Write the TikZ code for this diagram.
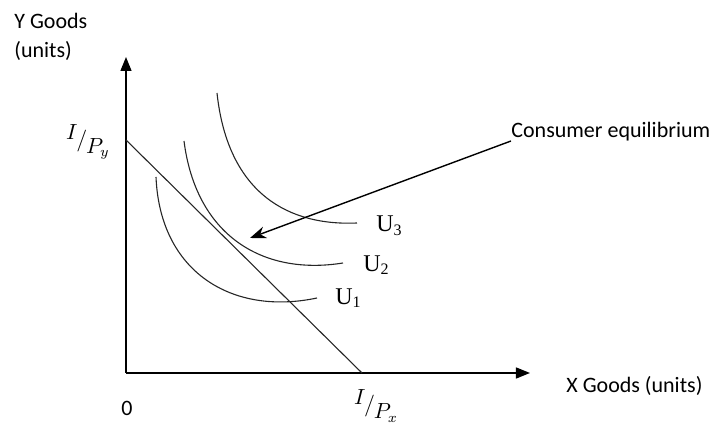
\documentclass[tikz,border=0pt]{standalone}
\usepackage{fontspec}
\setmainfont{Liberation Serif}
\newfontfamily\axisfont{Carlito}
\usetikzlibrary{arrows.meta, positioning}
\newcommand{\slantratio}[2]{$\raisebox{3.5pt}{$#1$}\mkern-1mu\big/\mkern-1mu\raisebox{-3.5pt}{$#2$}$}

\begin{document}
\begin{tikzpicture}[
    x=0.5pt, y=-0.5pt,
    axis/.style={-{Triangle[length=7pt,width=5.5pt]}, line width=0.7pt},
    curve/.style={draw=black!85, line width=0.55pt},
    axislabel/.style={font=\axisfont\fontsize{11}{14.5}\selectfont, align=left, inner sep=0pt},
    ulabel/.style={font=\fontsize{12}{13}\selectfont, inner sep=0pt},
    ratio/.style={font=\fontsize{10.5}{13}\selectfont, inner sep=0pt},
    pointer/.style={-{Stealth[length=8pt,width=6pt]}, line width=0.7pt}
  ]
    \useasboundingbox (0,0) rectangle (720,432);

    % axes
    \coordinate (O) at (126,373);
    \coordinate (ytip) at (126,57);
    \coordinate (xtip) at (530,373);
    \draw[axis] (O) -- (ytip);
    \draw[axis] (O) -- (xtip);

    % budget line
    \coordinate (Iy) at (126,140);
    \coordinate (Ix) at (362,373);
    \draw[curve] (Iy) -- (Ix);

    % indifference curves
    \draw[curve] (217,93) .. controls (228,195) and (290,226) .. (357,223);
    \draw[curve] (184,141) .. controls (196,235) and (262,276) .. (343,263);
    \draw[curve] (156,177) .. controls (160,272) and (232,316) .. (317,298);

    \node[ulabel, anchor=west] (u3) at (376,226) {U\textsubscript{3}};
    \node[ulabel, anchor=west] (u2) at (363,265) {U\textsubscript{2}};
    \node[ulabel, anchor=west] (u1) at (335,298) {U\textsubscript{1}};

    % labels
    \node[axislabel, anchor=north west] (ylab) at (14,13) {Y Goods\\(units)};
    \node[axislabel, anchor=west] (xlab) at (566,386) {X Goods (units)};
    \node[axislabel] (zero) at (127,408) {0};
    \node[ratio] (py) at (88,142) {\slantratio{I}{P_y}};
    \node[ratio] (px) at (376,406) {\slantratio{I}{P_x}};

    \node[axislabel, anchor=south west] (eq) at (511,141) {Consumer equilibrium};
    \coordinate (eqpt) at (250,238);
    \draw[pointer] (eq.south west) -- (eqpt);
  \end{tikzpicture}
\end{document}
